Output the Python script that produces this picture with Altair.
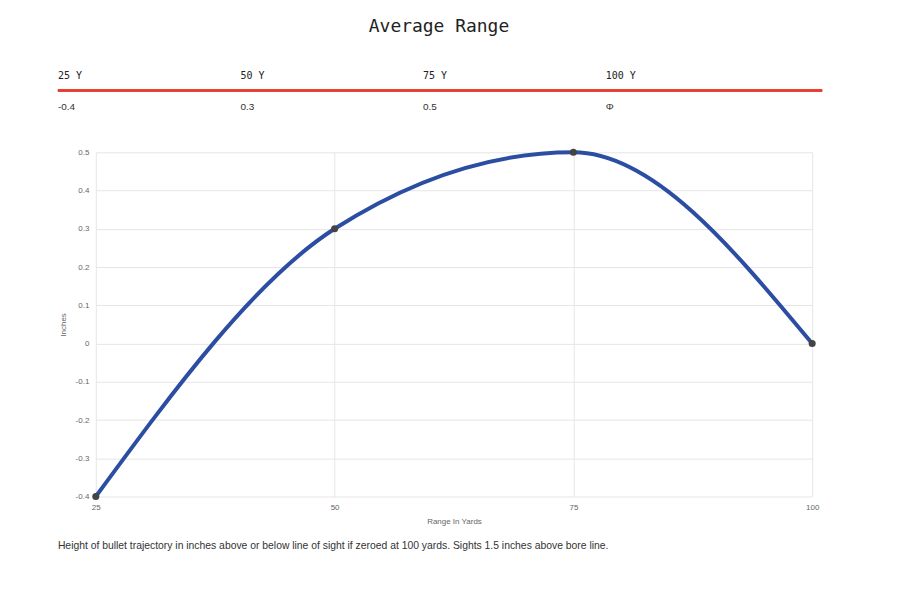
import altair as alt
import pandas as pd

# Data
ranges = [25, 50, 75, 100]
inches = [-0.4, 0.3, 0.5, 0.0]
y_ticks = [-0.4, -0.3, -0.2, -0.1, 0, 0.1, 0.2, 0.3, 0.4, 0.5]
header_labels = ["25 Y", "50 Y", "75 Y", "100 Y"]
header_values = ["-0.4", "0.3", "0.5", "Φ"]
footer = "Height of bullet trajectory in inches above or below line of sight if zeroed at 100 yards. Sights 1.5 inches above bore line."

df = pd.DataFrame({"range": ranges, "inches": inches})
hdr = pd.DataFrame({"col": list(range(4)), "label": header_labels, "value": header_values})

W, H = 718, 345

common = dict(grid=True, domain=False, ticks=False, labelFontSize=8, titleFontSize=8,
              labelColor="#666", titleColor="#666", titleFontWeight="normal", labelFlush=False,
              gridColor="#e6e6e6", labelFont="Liberation Sans", titleFont="Liberation Sans")

x = alt.X("range:Q", scale=alt.Scale(domain=[25, 100], nice=False, zero=False),
          axis=alt.Axis(values=ranges, title="Range In Yards", labelPadding=7, titlePadding=6, **common))
y = alt.Y("inches:Q", scale=alt.Scale(domain=[-0.4, 0.5], nice=False),
          axis=alt.Axis(values=y_ticks, title="Inches", labelPadding=7, titlePadding=8,
                        format="~g", labelExpr="replace(datum.label, '−', '-')", **common))

base = alt.Chart(df)
line = base.mark_line(interpolate="monotone", color="#2b4ea2", strokeWidth=4).encode(x=x, y=y)
pts = base.mark_circle(color="#444", opacity=1, size=50).encode(x=x, y=y)
plot = alt.layer(line, pts)

hx = alt.X("col:Q", scale=alt.Scale(domain=[0, 3], range=[-38, 511], nice=False, zero=False), axis=None)
hlab = alt.Chart(hdr).mark_text(align="left", baseline="middle", font="DejaVu Sans Mono",
                                fontSize=10, color="#222").encode(
    x=hx, y=alt.value(-76), text="label:N")
hval = alt.Chart(hdr).mark_text(align="left", baseline="middle", font="Liberation Sans",
                                fontSize=10, color="#333").encode(
    x=hx, y=alt.value(-45), text="value:N")
red = alt.Chart(hdr).mark_rule(color="#e8392a", strokeWidth=2).encode(
    x=alt.value(-38), x2=alt.value(728), y=alt.value(-62))
foot = alt.Chart(pd.DataFrame({"t": [footer]})).mark_text(
    align="left", baseline="middle", font="Liberation Sans", fontSize=10.4, color="#333").encode(
    x=alt.value(-38), y=alt.value(395), text="t:N")
header = alt.layer(hlab, hval, red, foot)

chart = alt.layer(plot, header).resolve_scale(x="independent").properties(
    width=W, height=H,
    title=alt.TitleParams("Average Range", font="DejaVu Sans Mono", fontSize=18,
                          fontWeight="normal", color="#222", anchor="middle", offset=36, dx=-15),
    autosize=alt.AutoSizeParams(type="none"),
    padding={"left": 88, "top": 144, "right": 80, "bottom": 60},
).configure_view(stroke=None)

chart.save("out.html", embed_options={"renderer": "svg", "actions": False})
